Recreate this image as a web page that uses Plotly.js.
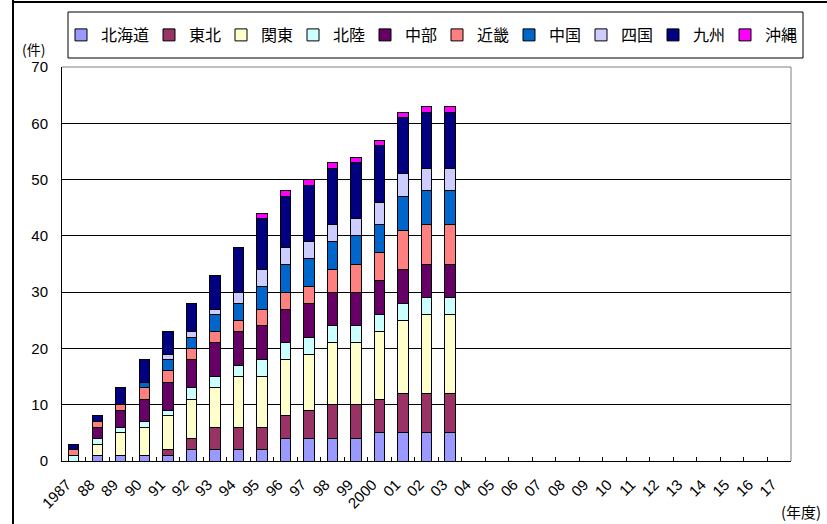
<!DOCTYPE html>
<html>
<head>
<meta charset="utf-8">
<script src="https://cdn.plot.ly/plotly-3.0.1.min.js"></script>
<style>html,body{margin:0;padding:0;background:#fff;}#chart{width:827px;height:524px;}</style>
</head>
<body>
<div id="chart"></div>
<script>
// Category labels (fiscal years)
const years = ['1987','88','89','90','91','92','93','94','95','96','97','98','99','2000','01','02','03','04','05','06','07','08','09','10','11','12','13','14','15','16','17'];
// Years that have data (1987–2003)
const dataYears = years.slice(0, 17);

// Series values (件)
const hokkaido = [0,1,1,1,1,2,2,2,2,4,4,4,4,5,5,5,5];
const tohoku   = [0,0,0,0,1,2,4,4,4,4,5,6,6,6,7,7,7];
const kanto    = [0,2,4,5,6,7,7,9,9,10,10,11,11,12,13,14,14];
const hokuriku = [1,1,1,1,1,2,2,2,3,3,3,3,3,3,3,3,3];
const chubu    = [0,2,3,4,5,5,6,6,6,6,6,6,6,6,6,6,6];
const kinki    = [1,1,1,2,2,2,2,2,3,3,3,4,5,5,7,7,7];
const chugoku  = [0,0,0,1,2,2,3,3,4,5,5,5,5,5,6,6,6];
const shikoku  = [0,0,0,0,1,1,1,2,3,3,3,3,3,4,4,4,4];
const kyushu   = [1,1,3,4,4,5,6,8,9,9,10,10,10,10,10,10,10];
const okinawa  = [0,0,0,0,0,0,0,0,1,1,1,1,1,1,1,1,1];

const seriesNames = ['北海道','東北','関東','北陸','中部','近畿','中国','四国','九州','沖縄'];
const seriesValues = [hokkaido, tohoku, kanto, hokuriku, chubu, kinki, chugoku, shikoku, kyushu, okinawa];
const seriesColors = ['#9999FF','#993366','#FFFFCC','#CCFFFF','#660066','#FF8080','#0066CC','#CCCCFF','#000080','#FF00FF'];

const FONT = 'Liberation Sans, "Noto Sans CJK JP", sans-serif';
const CJK = '"Noto Sans CJK JP", sans-serif';

const traces = seriesNames.map((name, i) => {
  const t = {
    type: 'bar',
    name: name,
    x: dataYears,
    y: seriesValues[i],
    marker: {color: seriesColors[i], line: {color: '#000000', width: 1}},
    hoverinfo: 'skip'
  };
  if (name.length === 3) t.legendwidth = 43;
  return t;
});
// helper to register all categories on the axis (draws nothing)
traces.push({
  type: 'scatter', mode: 'markers', x: years, y: years.map(() => null),
  showlegend: false, hoverinfo: 'skip'
});

const W = 827, H = 524, L = 62, R = 36, T = 67, B = 63;
const pw = W - L - R, ph = H - T - B;
const px = v => (v - L) / pw;
const py = v => (H - B - v) / ph;

const layout = {
  width: W, height: H,
  margin: {l: L, r: R, t: T, b: B, pad: 0},
  paper_bgcolor: '#ffffff', plot_bgcolor: '#ffffff',
  font: {family: FONT, color: '#000000', size: 15},
  barmode: 'stack',
  bargap: 0.56,
  hovermode: false,
  showlegend: true,
  legend: {
    orientation: 'h', traceorder: 'normal',
    x: px(61), xanchor: 'left', y: py(35), yanchor: 'middle',
    entrywidth: 27, entrywidthmode: 'pixels',
    bgcolor: 'rgba(0,0,0,0)', borderwidth: 0,
    font: {family: CJK, size: 16, color: '#000'}
  },
  xaxis: {
    type: 'category', categoryorder: 'array', categoryarray: years,
    range: [-0.5, years.length - 0.5], automargin: false,
    tickangle: -45, tickfont: {size: 15, family: FONT},
    ticklabelshift: -7, ticklabelstandoff: 8,
    ticks: 'inside', tickson: 'boundaries', ticklen: 4, tickcolor: '#000',
    showline: true, linecolor: '#000', linewidth: 1,
    showgrid: false, zeroline: false, fixedrange: true
  },
  yaxis: {
    range: [0, 70], dtick: 10, tick0: 0, automargin: false,
    tickfont: {size: 15, family: FONT},
    ticks: '', ticklabelstandoff: 10,
    showline: true, linecolor: '#000', linewidth: 1,
    showgrid: true, gridcolor: '#000', gridwidth: 1,
    zeroline: false, fixedrange: true
  },
  shapes: [
    // legend box
    {type: 'rect', xref: 'paper', yref: 'paper', x0: px(68), x1: px(803), y0: py(58), y1: py(12),
     line: {color: '#000', width: 1}, fillcolor: 'rgba(0,0,0,0)'},
    // plot area top & right border
    {type: 'line', xref: 'paper', yref: 'paper', x0: 0, x1: 1, y0: 1, y1: 1, line: {color: '#808080', width: 1}},
    {type: 'line', xref: 'paper', yref: 'paper', x0: 1, x1: 1, y0: 0, y1: 1, line: {color: '#808080', width: 1}},
    // outer frame lines
    {type: 'line', xref: 'paper', yref: 'paper', x0: px(13), x1: px(13), y0: py(0), y1: py(H), line: {color: '#000', width: 2}},
    {type: 'line', xref: 'paper', yref: 'paper', x0: px(13), x1: px(W), y0: py(2), y1: py(2), line: {color: '#000', width: 2}}
  ],
  annotations: [
    {text: '(件)', xref: 'paper', yref: 'paper', x: px(33), y: py(49), showarrow: false,
     xanchor: 'center', yanchor: 'middle', font: {size: 14, family: CJK}},
    {text: '(年度)', xref: 'paper', yref: 'paper', x: px(801), y: py(511), showarrow: false,
     xanchor: 'center', yanchor: 'middle', font: {size: 15, family: CJK}}
  ]
};

Plotly.newPlot('chart', traces, layout, {displayModeBar: false, staticPlot: true});
</script>
</body>
</html>
